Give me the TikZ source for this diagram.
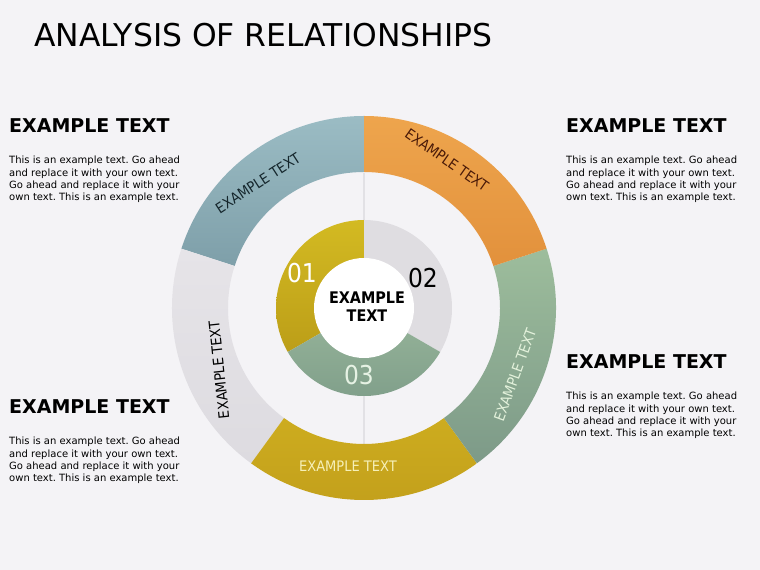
\documentclass[tikz,border=0pt]{standalone}
\usepackage{fontspec}
\setmainfont{DejaVu Sans}
\newfontfamily\condfont{DejaVu Sans Condensed}
\usetikzlibrary{positioning,calc}
\frenchspacing

\definecolor{pagebg}{HTML}{F4F3F6}
\definecolor{bluetop}{HTML}{9BBCC4}
\definecolor{bluebot}{HTML}{7E9FA9}
\definecolor{orangetop}{HTML}{EEA54D}
\definecolor{orangebot}{HTML}{E2913C}
\definecolor{greentop}{HTML}{9DBD9C}
\definecolor{greenbot}{HTML}{7D9A88}
\definecolor{yellowtop}{HTML}{CDAC1F}
\definecolor{yellowbot}{HTML}{C29F1B}
\definecolor{graytop}{HTML}{E6E4E8}
\definecolor{graybot}{HTML}{DDDBE0}
\definecolor{pieyellowtop}{HTML}{D3BA22}
\definecolor{pieyellowbot}{HTML}{BC9E18}
\definecolor{piegray}{HTML}{DFDDE1}
\definecolor{piegreentop}{HTML}{97B59A}
\definecolor{piegreenbot}{HTML}{7E9D89}
\definecolor{gapline}{HTML}{E2E1E5}

\begin{document}
\begin{tikzpicture}[
x=1pt,y=1pt,
every node/.style={inner sep=0pt},
heading/.style={font=\fontsize{19}{22}\selectfont\bfseries, anchor=base west},
body/.style={font=\fontsize{10}{12.4}\selectfont, align=left, anchor=north west},
seglabel/.style={font=\condfont\fontsize{14.5}{16}\selectfont},
number/.style={font=\condfont\fontsize{26}{28}\selectfont},
]

\fill[pagebg] (0,0) rectangle (760,570);
\useasboundingbox (0,0) rectangle (760,570);

\node[font=\fontsize{31.4}{36}\selectfont, anchor=base west] (title) at (34,523) {ANALYSIS OF RELATIONSHIPS};

% text blocks
\node[heading] (hnw) at (9,437) {EXAMPLE TEXT};
\node[below=23pt of hnw.base west, body] (bnw) {This is an example text. Go ahead\\and replace it with your own text.\\Go ahead and replace it with your\\own text. This is an example text.};
\node[heading] (hne) at (566,437) {EXAMPLE TEXT};
\node[below=23pt of hne.base west, body] (bne) {This is an example text. Go ahead\\and replace it with your own text.\\Go ahead and replace it with your\\own text. This is an example text.};
\node[heading] (hse) at (566,201) {EXAMPLE TEXT};
\node[below=23pt of hse.base west, body] (bse) {This is an example text. Go ahead\\and replace it with your own text.\\Go ahead and replace it with your\\own text. This is an example text.};
\node[heading] (hsw) at (9,156) {EXAMPLE TEXT};
\node[below=23pt of hsw.base west, body] (bsw) {This is an example text. Go ahead\\and replace it with your own text.\\Go ahead and replace it with your\\own text. This is an example text.};

% rings
\begin{scope}[shift={(364,262)}]
\draw[gapline, line width=1.2pt] (0,135) -- (0,-137);
\shade[top color=bluetop, bottom color=bluebot] (90:192) arc[start angle=90, end angle=162, radius=192] -- (162:136) arc[start angle=162, end angle=90, radius=136] -- cycle;
\shade[top color=graytop, bottom color=graybot] (162:192) arc[start angle=162, end angle=234, radius=192] -- (234:136) arc[start angle=234, end angle=162, radius=136] -- cycle;
\shade[top color=yellowtop, bottom color=yellowbot] (234:192) arc[start angle=234, end angle=306, radius=192] -- (306:136) arc[start angle=306, end angle=234, radius=136] -- cycle;
\shade[top color=greentop, bottom color=greenbot] (306:192) arc[start angle=306, end angle=378, radius=192] -- (18:136) arc[start angle=378, end angle=306, radius=136] -- cycle;
\shade[top color=orangetop, bottom color=orangebot] (18:192) arc[start angle=18, end angle=90, radius=192] -- (90:136) arc[start angle=90, end angle=18, radius=136] -- cycle;

\shade[top color=pieyellowtop, bottom color=pieyellowbot] (0,0) -- (90:88) arc[start angle=90, end angle=210, radius=88] -- cycle;
\fill[piegray] (0,0) -- (-30:88) arc[start angle=-30, end angle=90, radius=88] -- cycle;
\shade[top color=piegreentop, bottom color=piegreenbot] (0,0) -- (210:88) arc[start angle=210, end angle=330, radius=88] -- cycle;
\fill[white] (0,0) circle[radius=50];
\end{scope}

\node[font=\condfont\bfseries\fontsize{16}{18}\selectfont, align=center] (core) at (367,263) {EXAMPLE\\TEXT};

\node[number, text=white] (n01) at (302,297) {01};
\node[number, text=black] (n02) at (423,292) {02};
\node[number, text={rgb,255:red,230;green,242;blue,228}] (n03) at (359,195) {03};

\node[seglabel, rotate=33, text={rgb,255:red,21;green,38;blue,44}] (lblue) at (258,387) {EXAMPLE TEXT};
\node[seglabel, rotate=-35, text={rgb,255:red,74;green,26;blue,8}] (lorange) at (447,410) {EXAMPLE TEXT};
\node[seglabel, rotate=96, text=black] (lgray) at (219,200) {EXAMPLE TEXT};
\node[seglabel, rotate=70, text={rgb,255:red,228;green,242;blue,220}] (lgreen) at (515,195) {EXAMPLE TEXT};
\node[seglabel, text={rgb,255:red,246;green,240;blue,184}] (lyellow) at (348,104) {EXAMPLE TEXT};

\end{tikzpicture}
\end{document}
